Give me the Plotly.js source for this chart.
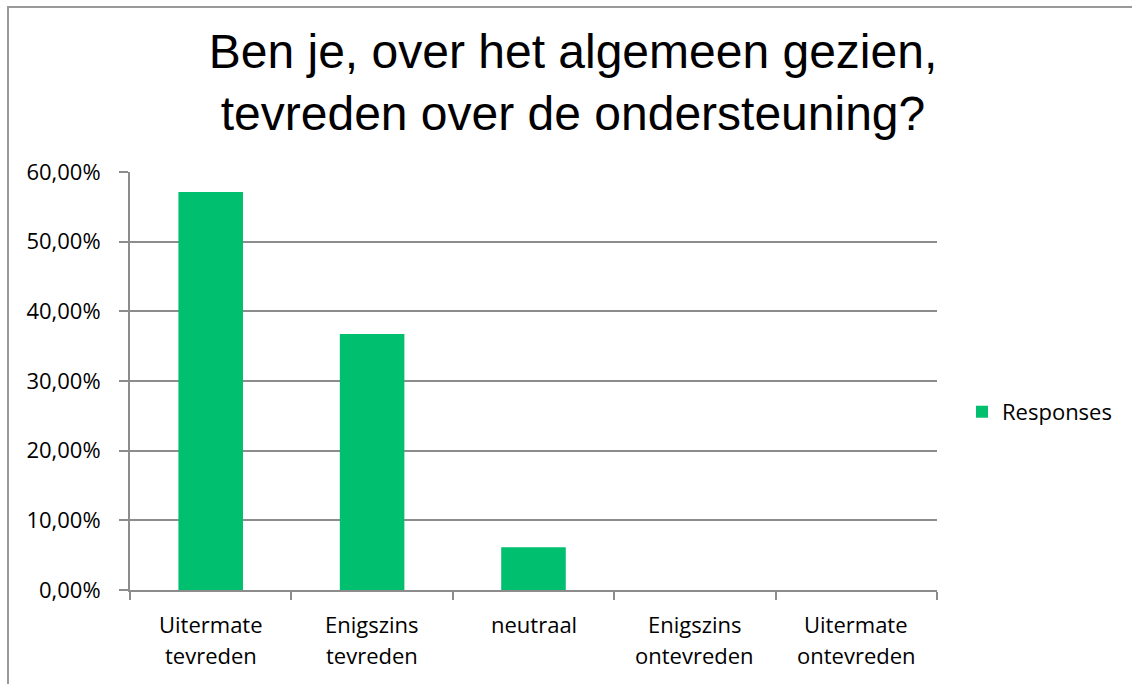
<!DOCTYPE html>
<html>
<head>
<meta charset="utf-8">
<script src="https://cdn.plot.ly/plotly-3.0.1.min.js"></script>
<style>
  body { margin: 0; background: #fff; }
  #wrap { position: relative; width: 1132px; height: 684px; overflow: hidden; }
  #chart { position: absolute; left: 0; top: 0; width: 1132px; height: 684px; }
  #frame { position: absolute; left: 7px; top: 6px; width: 1300px; height: 900px;
           border-left: 2px solid #999; border-top: 2px solid #999; pointer-events: none; }
</style>
</head>
<body>
<div id="wrap"><div id="chart"></div><div id="frame"></div></div>
<script>
// Data
const titleText = "Ben je, over het algemeen gezien,<br>tevreden over de ondersteuning?";
const categoryLine1 = ["Uitermate", "Enigszins", "neutraal", "Enigszins", "Uitermate"];
const categoryLine2 = ["tevreden", "tevreden", "", "ontevreden", "ontevreden"];
const categories = ["Uitermate tevreden", "Enigszins tevreden", "neutraal", "Enigszins ontevreden", "Uitermate ontevreden"];
const responses = [0.5714, 0.3673, 0.0612, 0, 0];
const seriesName = "Responses";
const yTickVals = [0, 0.1, 0.2, 0.3, 0.4, 0.5, 0.6];

const gridColor = "#8c8c8c";
const fam = "'Open Sans', Lato, sans-serif";
const tickFont = { family: fam, size: 22, color: "#000" };
const labelFont = { family: fam, size: 22, color: "#000" };

const annotations = [];
categories.forEach((c, i) => {
  annotations.push({ x: c, xref: "x", y: 0, yref: "paper", text: categoryLine1[i],
    showarrow: false, yanchor: "middle", yshift: -34, font: labelFont });
  if (categoryLine2[i]) {
    annotations.push({ x: c, xref: "x", y: 0, yref: "paper", text: categoryLine2[i],
      showarrow: false, yanchor: "middle", yshift: -65, font: labelFont });
  }
});

const data = [{
  type: "bar",
  x: categories,
  y: responses,
  name: seriesName,
  marker: { color: "#00bf6f" },
  showlegend: true,
  hoverinfo: "x+y"
}];

const layout = {
  width: 1132, height: 684,
  margin: { l: 130, r: 195, t: 172, b: 94, autoexpand: false },
  paper_bgcolor: "#fff", plot_bgcolor: "#fff",
  separators: ",.",
  bargap: 0.6,
  showlegend: true,
  title: {
    text: titleText,
    font: { family: "Liberation Sans, Arial, sans-serif", size: 48, color: "#000" },
    x: 573 / 1132, xanchor: "center",
    y: 1 - 68 / 684, yanchor: "top", yref: "container"
  },
  legend: {
    x: 1.031, xanchor: "left", y: 0.426, yanchor: "middle",
    font: labelFont, bgcolor: "rgba(0,0,0,0)"
  },
  xaxis: {
    type: "category",
    showticklabels: false, automargin: false,
    ticks: "outside", tickson: "boundaries", ticklen: 8, tickwidth: 2, tickcolor: gridColor,
    showline: true, linecolor: gridColor, linewidth: 2,
    showgrid: false, zeroline: false, fixedrange: true
  },
  yaxis: {
    range: [0, 0.6], automargin: false,
    tickvals: yTickVals,
    tickformat: ".2%",
    tickfont: tickFont,
    ticks: "outside", ticklen: 9, tickwidth: 2, tickcolor: gridColor,
    ticklabelstandoff: 14,
    showline: true, linecolor: gridColor, linewidth: 2,
    showgrid: true, gridcolor: gridColor, gridwidth: 2,
    zeroline: false, fixedrange: true
  },
  annotations: annotations
};

Plotly.newPlot("chart", data, layout, { displayModeBar: false, staticPlot: true });
</script>
</body>
</html>
